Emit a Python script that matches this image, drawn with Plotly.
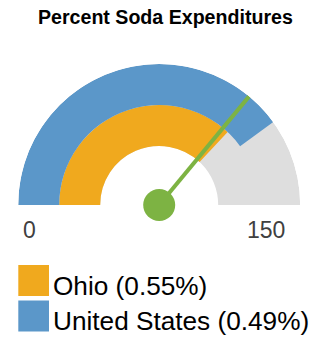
import plotly.graph_objects as go

# Gauge scale
GAUGE_MIN = 0
GAUGE_MAX = 150
tick_labels = ["0", "150"]

# Series shown on the gauge (inner ring first)
series_names = ["Ohio", "United States"]
series_pct = [0.55, 0.49]
arc_values = [111, 120]
series_colors = ["#f0a91e", "#5b97c9"]
needle_value = 108

TRACK_COLOR = "#dedede"
NEEDLE_COLOR = "#7db343"

# Ring radii in radial-axis units
R_INNER = 59
R_MID = 100
R_OUTER = 141
ring_bounds = [(R_INNER, R_MID), (R_MID, R_OUTER)]

W, H = 329, 337
FONT = "Liberation Sans, Arial, sans-serif"


def to_deg(v):
    return (v - GAUGE_MIN) / (GAUGE_MAX - GAUGE_MIN) * 180.0


fig = go.Figure()

# Grey track behind both rings
fig.add_trace(go.Barpolar(
    r=[R_OUTER - R_INNER], base=[R_INNER], theta=[90], width=[180],
    marker=dict(color=TRACK_COLOR, line=dict(width=0)),
    hoverinfo="skip", showlegend=False,
))

# One ring per series, drawn from the gauge minimum to its value
for name, val, col, (r0, r1) in zip(series_names, arc_values, series_colors, ring_bounds):
    span = to_deg(val)
    fig.add_trace(go.Barpolar(
        r=[r1 - r0], base=[r0], theta=[span / 2], width=[span],
        marker=dict(color=col, line=dict(width=0)),
        name=name, showlegend=False,
    ))

# Needle and pivot
fig.add_trace(go.Scatterpolar(
    r=[0, R_OUTER], theta=[to_deg(needle_value)] * 2, mode="lines",
    line=dict(color=NEEDLE_COLOR, width=4), cliponaxis=False,
    hoverinfo="skip", showlegend=False,
))
fig.add_trace(go.Scatterpolar(
    r=[0], theta=[0], mode="markers",
    marker=dict(color=NEEDLE_COLOR, size=32), cliponaxis=False,
    hoverinfo="skip", showlegend=False,
))

cx0, cx1 = 18.2, 300.2
cy_base, cy_top = 205, 64


def py(y):
    return (H - y) / H


fig.update_layout(
    width=W, height=H,
    margin=dict(l=0, r=0, t=0, b=0),
    paper_bgcolor="white",
    showlegend=False,
    polar=dict(
        domain=dict(x=[cx0 / W, cx1 / W], y=[py(cy_base), py(cy_top)]),
        sector=[0, 180],
        bgcolor="rgba(0,0,0,0)",
        barmode="overlay",
        radialaxis=dict(range=[0, R_OUTER], visible=False),
        angularaxis=dict(rotation=180, direction="clockwise", visible=False,
                         thetaunit="degrees"),
    ),
)

annotations = [
    dict(text="<b>Percent Soda Expenditures</b>", x=165.7 / W, y=py(16.7),
         xref="paper", yref="paper", xanchor="center", yanchor="middle",
         showarrow=False, font=dict(family=FONT, size=19.6, color="#000000")),
]

# Gauge end labels
for lbl, xc in zip(tick_labels, [29.5, 265.5]):
    annotations.append(dict(text=lbl, x=xc / W, y=py(230.3), xref="paper", yref="paper",
                            xanchor="center", yanchor="middle", showarrow=False,
                            font=dict(family=FONT, size=23, color="#404040")))

# Legend rows: swatch + label
shapes = []
row_top = [265, 300.5]
for i, (name, pct, col) in enumerate(zip(series_names, series_pct, series_colors)):
    top = row_top[i]
    shapes.append(dict(type="rect", xref="paper", yref="paper",
                       x0=18.3 / W, x1=49 / W, y0=py(top + 31), y1=py(top),
                       fillcolor=col, line=dict(width=0)))
    annotations.append(dict(text=f"{name} ({pct:.2f}%)", x=50.5 / W, y=py(top + 20.5),
                            xref="paper", yref="paper", xanchor="left", yanchor="middle",
                            showarrow=False,
                            font=dict(family=FONT, size=26.2, color="#000000")))

fig.update_layout(annotations=annotations, shapes=shapes)

fig.write_html("out.html")
